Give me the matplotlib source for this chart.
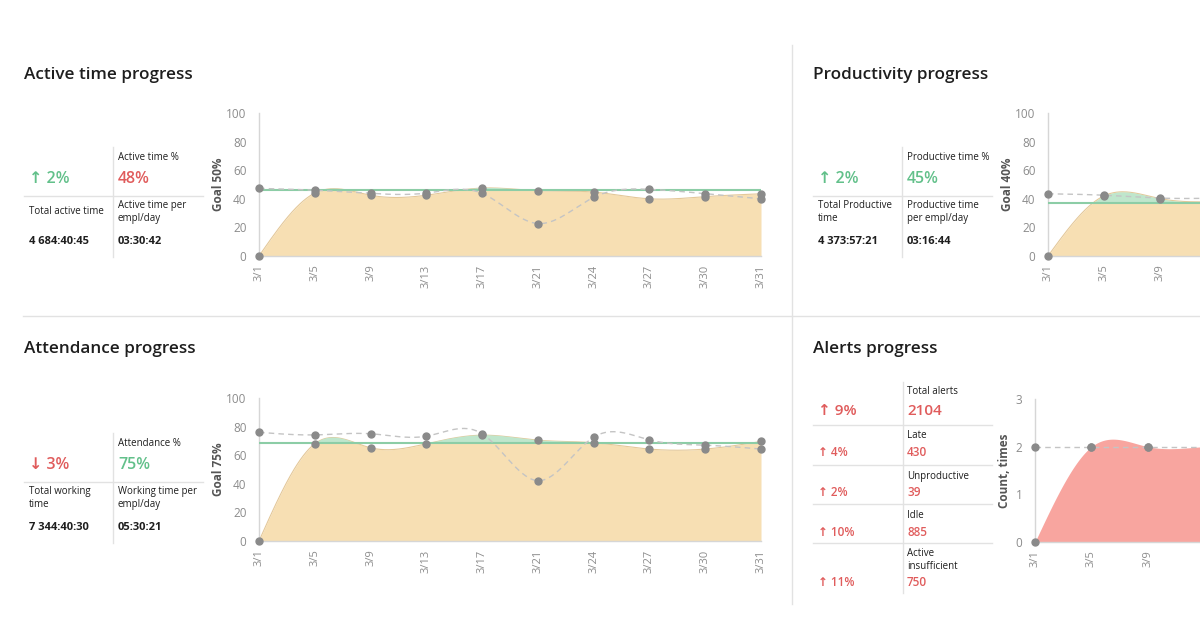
import matplotlib
matplotlib.use('Agg')
import matplotlib.pyplot as plt
from matplotlib.lines import Line2D
import numpy as np

plt.rcParams['font.family'] = ['Open Sans', 'DejaVu Sans']

# データ
dates = ['3/1', '3/5', '3/9', '3/13', '3/17', '3/21', '3/24', '3/27', '3/30', '3/31']

active_now = [0, 44, 42.5, 42.5, 47.5, 45.7, 44.7, 40, 41.5, 43.5]
active_prev = [47.3, 46, 43.8, 44, 43.8, 22.7, 41, 46.6, 43.6, 40]
active_line = 46

attend_now = [0, 68, 65.2, 68, 74, 70.5, 68.7, 64.3, 64.3, 69.6]
attend_prev = [76, 74.2, 75, 73.3, 75, 42.2, 72.6, 70.7, 67, 64.3]
attend_line = 68.5

prod_now = [0, 42, 40.2, 38, 39, 40, 41, 40, 39, 40]
prod_prev = [43.5, 42.5, 40.5, 40.5, 41, 40, 42, 41, 40, 41]
prod_line = 37

alerts_now = [0, 2, 2, 2, 2, 2, 2, 2, 2, 2]
alerts_prev = [2, 2, 2, 2, 2, 2, 2, 2, 2, 2]

alert_labels = ['Total alerts', 'Late', 'Unproductive', 'Idle', 'Active\ninsufficient']
alert_counts = ['2104', '430', '39', '885', '750']
alert_changes = ['↑ 9%', '↑ 4%', '↑ 2%', '↑ 10%', '↑ 11%']

# 色
ORANGE = '#F7DFB3'
ORANGE_EDGE = '#E4C899'
GREEN_FILL = '#BFE6CC'
GREEN_LINE = '#8CCDA6'
GREEN_TXT = '#62C08A'
RED_TXT = '#E05C5C'
RED_FILL = '#F8A59F'
GRID = '#E2E2E2'
TICK = '#8C8C8C'
DARK = '#1E1E1E'

W, H = 1200, 630
fig = plt.figure(figsize=(12, 6.3), dpi=100)


def spline(y, n=500):
    # natural cubic spline through the points
    y = np.asarray(y, float)
    m = len(y)
    A = np.zeros((m, m))
    r = np.zeros(m)
    A[0, 0] = A[-1, -1] = 1
    for i in range(1, m - 1):
        A[i, i - 1], A[i, i], A[i, i + 1] = 1, 4, 1
        r[i] = 6 * (y[i + 1] - 2 * y[i] + y[i - 1])
    M = np.linalg.solve(A, r)
    xs = np.linspace(0, m - 1, n)
    i = np.minimum(xs.astype(int), m - 2)
    t = xs - i
    ys = (M[i] * (1 - t) ** 3 + M[i + 1] * t ** 3) / 6 \
        + (y[i] - M[i] / 6) * (1 - t) + (y[i + 1] - M[i + 1] / 6) * t
    return xs, ys


def px_axes(x0, y0, x1, y1):
    return fig.add_axes([x0 / W, 1 - y1 / H, (x1 - x0) / W, (y1 - y0) / H])


def ftext(x, y, s, **kw):
    kw.setdefault('va', 'center')
    kw.setdefault('ha', 'left')
    fig.text(x / W, 1 - y / H, s, **kw)


def fline(x0, y0, x1, y1):
    fig.add_artist(Line2D([x0 / W, x1 / W], [1 - y0 / H, 1 - y1 / H], color=GRID, lw=1))


def style(ax, ymax, yticks, ylabel, labelpad=1):
    ax.set_xlim(0, len(dates) - 1)
    ax.set_ylim(0, ymax)
    ax.set_xticks(range(len(dates)))
    ax.set_xticklabels(dates, rotation=90, fontsize=8, color=TICK)
    ax.set_yticks(yticks)
    ax.set_yticklabels([str(v) for v in yticks], fontsize=8.5, color=TICK)
    ax.tick_params(axis='y', length=0, pad=9)
    ax.tick_params(axis='x', length=0, pad=6)
    for s in ['top', 'right']:
        ax.spines[s].set_visible(False)
    for s in ['left', 'bottom']:
        ax.spines[s].set_color('#D6D6D6')
        ax.spines[s].set_linewidth(1)
    ax.set_ylabel(ylabel, fontsize=8.5, fontweight='bold', color='#555555', labelpad=labelpad)
    ax.patch.set_alpha(0)
    # 画面外に出るラベルは表示しない
    for pos, lbl in zip(range(len(dates)), ax.get_xticklabels()):
        if ax.transData.transform((pos, 0))[0] > W - 8:
            lbl.set_visible(False)


def pct_chart(ax, now, prev, line, ylabel):
    x = np.arange(len(dates))
    xs, ys = spline(now)
    _, yp = spline(prev)
    ax.fill_between(xs, 0, ys, color=ORANGE, lw=0, zorder=1)
    ax.plot(xs, ys, color=ORANGE_EDGE, lw=0.8, zorder=2)
    ax.fill_between(xs, line, ys, where=ys > line, interpolate=True,
                    color=GREEN_FILL, lw=0, zorder=2)
    ax.axhline(line, color=GREEN_LINE, lw=1.5, zorder=3)
    ax.plot(xs, yp, color='#C4C4C4', lw=1, ls=(0, (4, 3)), zorder=4)
    ax.plot(x, prev, 'o', color='#8A8A8A', ms=5, zorder=5, clip_on=False)
    ax.plot(x, now, 'o', color='#8A8A8A', ms=5, zorder=5, clip_on=False)
    style(ax, 100, [0, 20, 40, 60, 80, 100], ylabel)


# 区切り線
fline(792, 45, 792, 604)
fline(23, 316, 1200, 316)

# タイトル
for x, y, s in [(24, 75, 'Active time progress'), (813, 75, 'Productivity progress'),
                (24, 349, 'Attendance progress'), (813, 349, 'Alerts progress')]:
    ftext(x, y, s, fontsize=12.3, fontweight='semibold', color=DARK)


def stat_block(x0, y0, change, change_col, pct_label, pct, pct_col,
               left_label, left_val, right_label, right_val):
    # x0: left edge, y0: horizontal divider y
    fline(x0, y0, x0 + 179, y0)
    fline(x0 + 89, y0 - 49, x0 + 89, y0 + 61)
    ftext(x0 + 5, y0 - 17, change, fontsize=11.5, fontweight='semibold', color=change_col)
    ftext(x0 + 94, y0 - 39, pct_label, fontsize=7, color=DARK)
    ftext(x0 + 94, y0 - 17, pct, fontsize=11.5, fontweight='semibold', color=pct_col)
    ftext(x0 + 5, y0 + 16, left_label, fontsize=7, color=DARK, linespacing=1.25)
    ftext(x0 + 94, y0 + 16, right_label, fontsize=7, color=DARK, linespacing=1.25)
    ftext(x0 + 5, y0 + 45, left_val, fontsize=8, fontweight='bold', color=DARK)
    ftext(x0 + 94, y0 + 45, right_val, fontsize=8, fontweight='bold', color=DARK)


stat_block(24, 196, '↑ 2%', GREEN_TXT, 'Active time %', '48%', RED_TXT,
           'Total active time', '4 684:40:45', 'Active time per\nempl/day', '03:30:42')
stat_block(813, 196, '↑ 2%', GREEN_TXT, 'Productive time %', '45%', GREEN_TXT,
           'Total Productive\ntime', '4 373:57:21', 'Productive time\nper empl/day', '03:16:44')
stat_block(24, 482, '↓ 3%', RED_TXT, 'Attendance %', '75%', GREEN_TXT,
           'Total working\ntime', '7 344:40:30', 'Working time per\nempl/day', '05:30:21')

# アラート表
fline(903, 382, 903, 593)
for y in [425, 465, 504, 543]:
    fline(813, y, 992, y)
label_y = [392, 436, 476, 515, 560]
value_y = [411, 452, 492, 532, 582]
for i in range(len(alert_labels)):
    big = i == 0
    ftext(818, value_y[i], alert_changes[i], fontsize=11 if big else 8.5,
          fontweight='semibold', color=RED_TXT)
    ftext(907, label_y[i], alert_labels[i], fontsize=7, color=DARK, linespacing=1.2)
    ftext(907, value_y[i], alert_counts[i], fontsize=11 if big else 8.5,
          fontweight='semibold', color=RED_TXT)

# グラフ
ax1 = px_axes(259, 113, 761, 256)
pct_chart(ax1, active_now, active_prev, active_line, 'Goal 50%')

ax2 = px_axes(259, 398, 761, 541)
pct_chart(ax2, attend_now, attend_prev, attend_line, 'Goal 75%')

ax3 = px_axes(1048, 113, 1550, 256)
pct_chart(ax3, prod_now, prod_prev, prod_line, 'Goal 40%')

ax4 = px_axes(1035, 399, 1543, 542)
xs, ys = spline(alerts_now)
_, yp = spline(alerts_prev)
ax4.fill_between(xs, 0, ys, color=RED_FILL, lw=0, zorder=1)
ax4.plot(xs, yp, color='#C4C4C4', lw=1, ls=(0, (4, 3)), zorder=4)
ax4.plot(range(len(dates)), alerts_prev, 'o', color='#8A8A8A', ms=5, zorder=5, clip_on=False)
ax4.plot(range(len(dates)), alerts_now, 'o', color='#8A8A8A', ms=5, zorder=5, clip_on=False)
style(ax4, 3, [0, 1, 2, 3], 'Count, times', labelpad=3)

fig.savefig('out.png', dpi=100)
